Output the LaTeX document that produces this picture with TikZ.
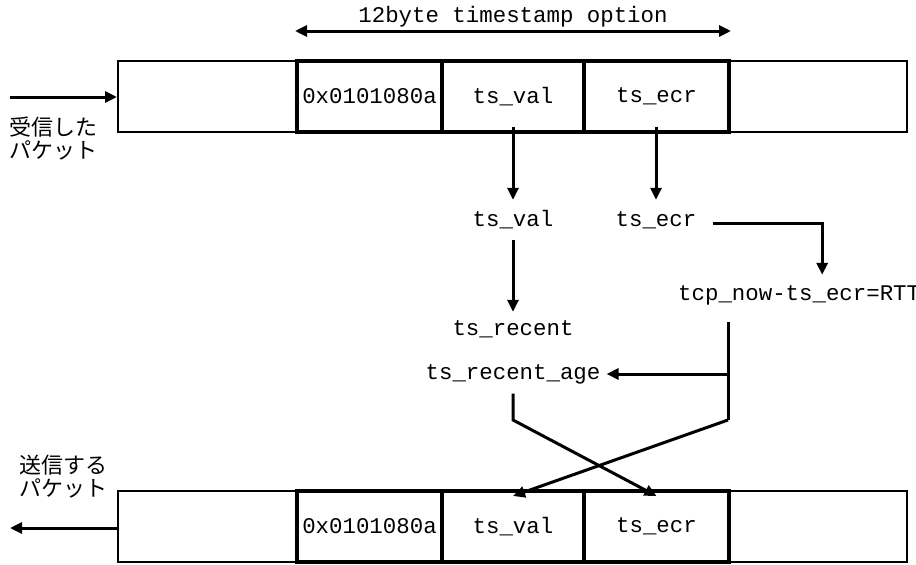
\documentclass[tikz,border=0pt]{standalone}
\usepackage{fontspec}
\setmonofont{Liberation Mono}
\newfontfamily\jpfont{Noto Sans CJK JP}
\usetikzlibrary{arrows.meta}
\newcommand\codefont{\ttfamily\fontsize{22.4}{26}\selectfont}
\newcommand\jpsize{\jpfont\fontsize{22}{22.5}\selectfont}
\begin{document}
\begin{tikzpicture}[x=1pt,y=-1pt,
  pkt/.style={draw, line width=2pt, minimum width=789pt, minimum height=71pt, inner sep=0pt},
  field/.style={draw, line width=4pt, minimum width=#1, minimum height=71pt, inner sep=0pt, font=\codefont},
  lbl/.style={inner sep=0pt, text height=11pt, text depth=4pt, font=\codefont},
  jp/.style={inner sep=0pt, align=left, anchor=north west, font=\jpsize},
  conn/.style={line width=3pt, -{Triangle[length=12pt,width=11pt]}},
  wire/.style={line width=3pt},
]
\useasboundingbox (0,0) rectangle (916,565);

% received packet
\node[pkt] (p1) at (512.5,96.5) {};
\node[field=145pt] (f1a) at (369.5,96.5) {0x0101080a};
\node[field=142pt] (f1b) at (513,96.5) {ts\_val};
\node[field=145pt] (f1c) at (656.5,96.5) {ts\_ecr};

% packet to send
\node[pkt] (p2) at (512.5,526.5) {};
\node[field=145pt] (f2a) at (369.5,526.5) {0x0101080a};
\node[field=142pt] (f2b) at (513,526.5) {ts\_val};
\node[field=145pt] (f2c) at (656.5,526.5) {ts\_ecr};

% option length
\draw[line width=3pt, {Triangle[length=12pt,width=11pt]}-{Triangle[length=12pt,width=11pt]}]
  ([yshift=28pt]f1a.north west) -- ([yshift=28pt]f1c.north east)
  node[midway, above=2pt, inner sep=0pt, font=\codefont] (optlbl) {12byte timestamp option};

% side labels and packet flow
\coordinate (inL) at (10,97);
\coordinate (outL) at (10,528);
\draw[conn] (inL) -- (p1.west |- inL);
\draw[conn] (p2.west |- outL) -- (outL);
\node[jp] (rcv) at (9,117) {受信した\\パケット};
\node[jp] (snd) at (19,455) {送信する\\パケット};

% intermediate values
\node[lbl] (v2) at (513,223) {ts\_val};
\node[lbl] (e2) at (656,223) {ts\_ecr};
\node[lbl] (rec) at (513,332) {ts\_recent};
\node[lbl] (age) at (513,376) {ts\_recent\_age};
\node[lbl, anchor=west] (rtt) at (678,297) {tcp\_now-ts\_ecr=RTT};

\coordinate (j1) at (728,374);
\coordinate (j2) at (728,420);
\coordinate (k1) at (513,420);

\draw[conn] ([yshift=7pt]f1b.south) -- ([yshift=15.5pt]v2.north);
\draw[conn] ([yshift=7pt]f1c.south -| e2) -- ([yshift=15.5pt]e2.north);
\draw[conn] ([yshift=-9.5pt]v2.south) -- ([yshift=12.5pt]rec.north);
\draw[conn] ([xshift=16pt]e2.east) -| ([xshift=23pt,yshift=14.5pt]rtt.north);

\draw[wire] ([yshift=-17.5pt]rtt.south -| j1) -- (j2);
\draw[conn] (j1) -- ([xshift=6pt]age.east |- j1);
\draw[conn] (j2) -- ([yshift=-7pt]f2b.north);
\draw[conn] ([yshift=-10pt]age.south) -- (k1) -- ([yshift=-7pt]f2c.north);
\end{tikzpicture}
\end{document}
